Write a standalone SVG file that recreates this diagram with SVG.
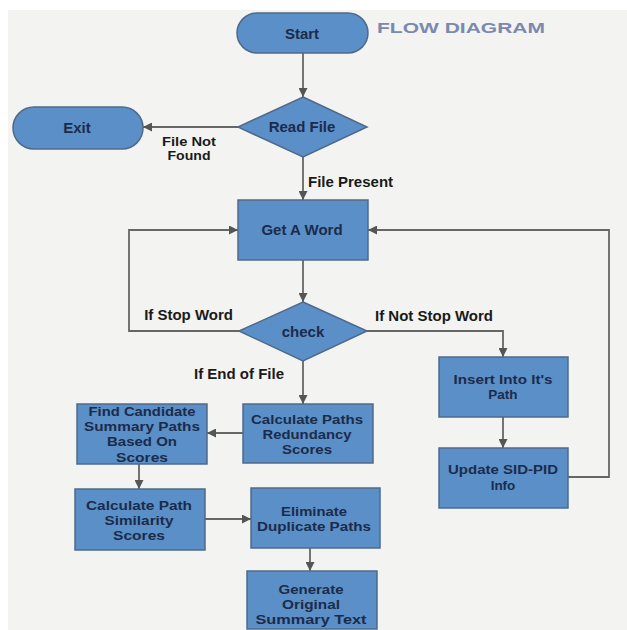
<svg xmlns="http://www.w3.org/2000/svg" width="627" height="630" viewBox="0 0 627 630">
<style>
.node{fill:#5b8fc7;stroke:#50698a;stroke-width:1.5}
.nt{font-family:"Liberation Sans",Arial,sans-serif;font-weight:bold;font-size:15px;fill:#1c2b4a;text-anchor:middle}
.nt2{font-family:"Liberation Sans",Arial,sans-serif;font-weight:bold;font-size:13.5px;fill:#1c2b4a;text-anchor:middle}
.lbl{font-family:"Liberation Sans",Arial,sans-serif;font-weight:bold;font-size:15px;fill:#1a1a1a}
.lbl2{font-family:"Liberation Sans",Arial,sans-serif;font-weight:bold;font-size:13.5px;fill:#1a1a1a}
.conn{fill:none;stroke:#666;stroke-width:1.8}
.title{font-family:"Liberation Sans",Arial,sans-serif;font-weight:bold;font-size:15px;fill:#7b89ae}
</style>
<defs>
<marker id="ah" viewBox="0 0 10 10" refX="10" refY="5" markerWidth="10" markerHeight="9" markerUnits="userSpaceOnUse" orient="auto">
<path d="M0,0 L10,5 L0,10 z" fill="#555"/>
</marker>
</defs>
<rect x="0" y="0" width="627" height="630" fill="#ffffff"/>
<rect x="8" y="10" width="619" height="620" fill="#f3f4f1"/>
<text class="title" x="377" y="33" textLength="168" lengthAdjust="spacingAndGlyphs">FLOW DIAGRAM</text>
<g id="connectors">
<path class="conn" d="M303,53 V97" marker-end="url(#ah)"/>
<path class="conn" d="M238,127 H143" marker-end="url(#ah)"/>
<path class="conn" d="M303,157 V200" marker-end="url(#ah)"/>
<path class="conn" d="M303,260 V302" marker-end="url(#ah)"/>
<path class="conn" d="M239,331 H129 V230 H238" marker-end="url(#ah)"/>
<path class="conn" d="M367,331 H503 V357" marker-end="url(#ah)"/>
<path class="conn" d="M503,417 V448" marker-end="url(#ah)"/>
<path class="conn" d="M568,477 H609 V230 H368" marker-end="url(#ah)"/>
<path class="conn" d="M303,361 V404" marker-end="url(#ah)"/>
<path class="conn" d="M243,433 H207" marker-end="url(#ah)"/>
<path class="conn" d="M139,464 V489" marker-end="url(#ah)"/>
<path class="conn" d="M205,519 H251" marker-end="url(#ah)"/>
<path class="conn" d="M310,548 V571" marker-end="url(#ah)"/>
<text class="lbl2" x="189" y="146" text-anchor="middle" textLength="54" lengthAdjust="spacingAndGlyphs">File Not</text>
<text class="lbl2" x="189" y="160" text-anchor="middle" textLength="43" lengthAdjust="spacingAndGlyphs">Found</text>
<text class="lbl" x="308" y="187">File Present</text>
<text class="lbl" x="233" y="320" text-anchor="end">If Stop Word</text>
<text class="lbl" x="375" y="321">If Not Stop Word</text>
<text class="lbl" x="284" y="379" text-anchor="end">If End of File</text>
</g>
<g id="start"><rect class="node" x="237" y="13" width="131" height="40" rx="20"/><text class="nt" x="302" y="39">Start</text></g>
<g id="readfile"><polygon class="node" points="303,97 367,127 303,157 238,127"/><text class="nt" x="302" y="132">Read File</text></g>
<g id="exit"><rect class="node" x="13" y="107" width="130" height="42" rx="21"/><text class="nt" x="77" y="133">Exit</text></g>
<g id="getword"><rect class="node" x="238" y="200" width="130" height="60"/><text class="nt" x="302" y="235">Get A Word</text></g>
<g id="check"><polygon class="node" points="303,302 367,331 303,361 239,331"/><text class="nt" x="303" y="337">check</text></g>
<g id="insert"><rect class="node" x="439" y="357" width="129" height="60"/><text class="nt2" x="503" y="384" textLength="99" lengthAdjust="spacingAndGlyphs">Insert Into It's</text><text class="nt2" x="503" y="399">Path</text></g>
<g id="update"><rect class="node" x="439" y="448" width="129" height="60"/><text class="nt2" x="503" y="474" textLength="110" lengthAdjust="spacingAndGlyphs">Update SID-PID</text><text class="nt2" x="503" y="490">Info</text></g>
<g id="calcpaths"><rect class="node" x="243" y="404" width="130" height="59"/><text class="nt2" x="307" y="424" textLength="112" lengthAdjust="spacingAndGlyphs">Calculate Paths</text><text class="nt2" x="307" y="439" textLength="89" lengthAdjust="spacingAndGlyphs">Redundancy</text><text class="nt2" x="307" y="454" textLength="50" lengthAdjust="spacingAndGlyphs">Scores</text></g>
<g id="findcand"><rect class="node" x="77" y="404" width="130" height="60"/><text class="nt2" x="142" y="416" textLength="107" lengthAdjust="spacingAndGlyphs">Find Candidate</text><text class="nt2" x="142" y="431" textLength="116" lengthAdjust="spacingAndGlyphs">Summary Paths</text><text class="nt2" x="142" y="446" textLength="70" lengthAdjust="spacingAndGlyphs">Based On</text><text class="nt2" x="142" y="462" textLength="52" lengthAdjust="spacingAndGlyphs">Scores</text></g>
<g id="calcsim"><rect class="node" x="75" y="489" width="130" height="61"/><text class="nt2" x="139" y="510" textLength="106" lengthAdjust="spacingAndGlyphs">Calculate Path</text><text class="nt2" x="139" y="525" textLength="69" lengthAdjust="spacingAndGlyphs">Similarity</text><text class="nt2" x="139" y="540" textLength="52" lengthAdjust="spacingAndGlyphs">Scores</text></g>
<g id="eliminate"><rect class="node" x="251" y="488" width="129" height="60"/><text class="nt2" x="314" y="516" textLength="66" lengthAdjust="spacingAndGlyphs">Eliminate</text><text class="nt2" x="314" y="531" textLength="114" lengthAdjust="spacingAndGlyphs">Duplicate Paths</text></g>
<g id="generate"><rect class="node" x="247" y="571" width="130" height="58"/><text class="nt2" x="311" y="594" textLength="65" lengthAdjust="spacingAndGlyphs">Generate</text><text class="nt2" x="311" y="609" textLength="58" lengthAdjust="spacingAndGlyphs">Original</text><text class="nt2" x="311" y="624" textLength="111" lengthAdjust="spacingAndGlyphs">Summary Text</text></g>
</svg>
